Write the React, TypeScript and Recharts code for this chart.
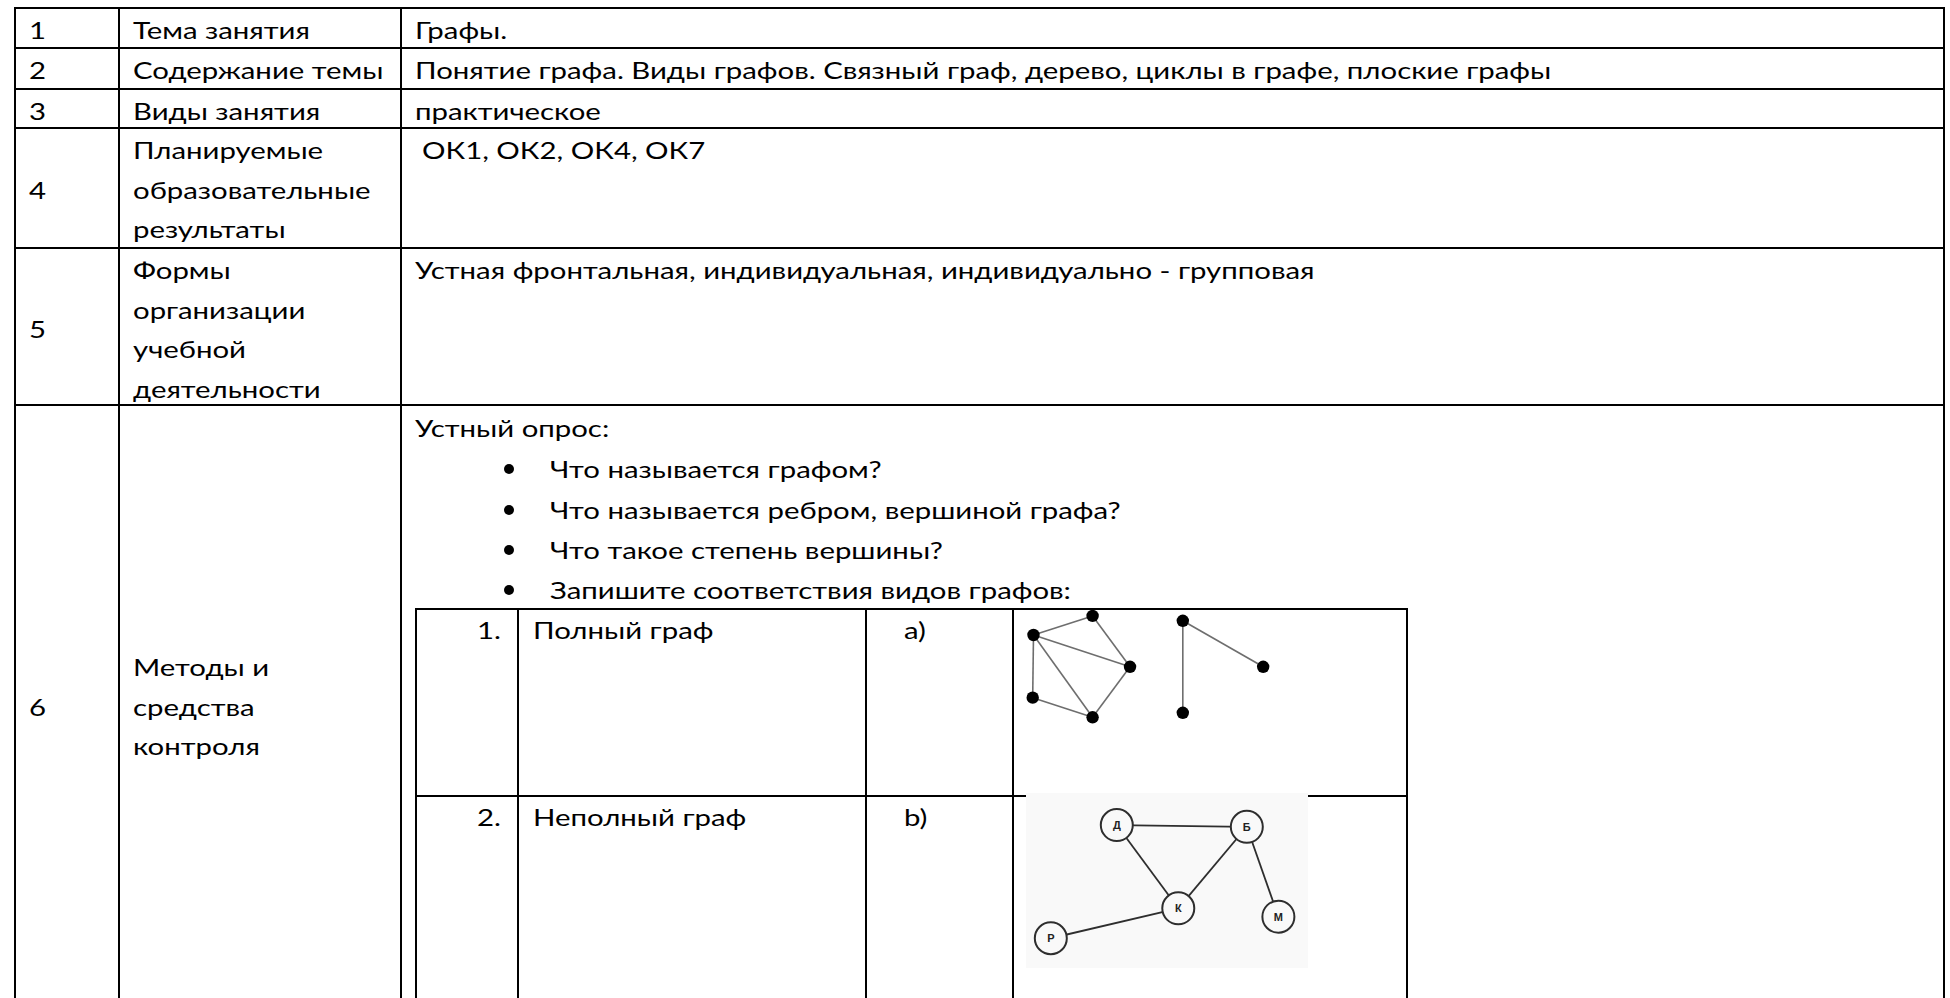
import React, { useMemo } from 'react';
import { ScatterChart, Scatter, XAxis, YAxis } from 'recharts';

// ---------- data ----------
const rowNumbers = ['1', '2', '3', '4', '5', '6'];
const rowTitles: string[][] = [
  ['Тема занятия'],
  ['Содержание темы'],
  ['Виды занятия'],
  ['Планируемые', 'образовательные', 'результаты'],
  ['Формы', 'организации', 'учебной', 'деятельности'],
  ['Методы и', 'средства', 'контроля'],
];
const rowContents: string[] = [
  'Графы.',
  'Понятие графа. Виды графов. Связный граф, дерево, циклы в графе, плоские графы',
  'практическое',
  'ОК1, ОК2, ОК4, ОК7',
  'Устная фронтальная, индивидуальная, индивидуально - групповая',
];
const surveyTitle = 'Устный опрос:';
const surveyQuestions = [
  'Что называется графом?',
  'Что называется ребром, вершиной графа?',
  'Что такое степень вершины?',
  'Запишите соответствия видов графов:',
];
const matchNumbers = ['1.', '2.'];
const matchNames = ['Полный граф', 'Неполный граф'];
const matchLetters = ['a)', 'b)'];

type GNode = { id: string; x: number; y: number };
// graph a) (two drawings in one picture), coordinates on a 0..100 grid
const graphANodes: GNode[] = [
  { id: 'A', x: 5.2, y: 86.1 },
  { id: 'B', x: 20.2, y: 96.3 },
  { id: 'C', x: 29.7, y: 69.1 },
  { id: 'D', x: 20.2, y: 42.1 },
  { id: 'E', x: 5.0, y: 52.6 },
  { id: 'F', x: 43.1, y: 93.7 },
  { id: 'G', x: 63.5, y: 69.1 },
  { id: 'H', x: 43.1, y: 44.5 },
];
const graphAEdges: [string, string][] = [
  ['A', 'B'], ['B', 'C'], ['A', 'C'], ['C', 'D'], ['A', 'D'], ['A', 'E'], ['E', 'D'],
  ['F', 'G'], ['F', 'H'],
];
// graph b)
const graphBNodes: GNode[] = [
  { id: 'Д', x: 32.2, y: 81.7 },
  { id: 'Б', x: 78.3, y: 80.7 },
  { id: 'К', x: 54.0, y: 34.1 },
  { id: 'М', x: 89.5, y: 29.3 },
  { id: 'Р', x: 8.8, y: 17.0 },
];
const graphBEdges: [string, string][] = [
  ['Д', 'Б'], ['Д', 'К'], ['Б', 'К'], ['Б', 'М'], ['К', 'Р'],
];

// ---------- layout ----------
const FONT = 'Lato, "Noto Sans", sans-serif';
const FS = 22.5;
const LH = 39.6;
const ROW2_TARGET_WIDTH = 1137;
const colX = [15, 119, 401, 1944];
const rowY = [8, 48, 89, 128, 248, 405];
const innerCols = [416, 518, 866, 1013, 1407];
const innerRows = [609, 796];
const BOTTOM = 1000;

function GraphChart(props: {
  nodes: GNode[];
  edges: [string, string][];
  width: number;
  height: number;
  edgeStroke: string;
  edgeWidth: number;
  renderNode: (p: any) => React.ReactElement;
  bg?: string;
}) {
  const { nodes, edges, width, height, edgeStroke, edgeWidth, renderNode, bg } = props;
  const byId: Record<string, GNode> = {};
  nodes.forEach((n) => (byId[n.id] = n));
  return (
    <div style={{ width, height, background: bg || 'transparent' }}>
      <ScatterChart width={width} height={height} margin={{ top: 0, right: 0, bottom: 0, left: 0 }}>
        <XAxis type="number" dataKey="x" domain={[0, 100]} hide allowDataOverflow />
        <YAxis type="number" dataKey="y" domain={[0, 100]} hide allowDataOverflow />
        {edges.map(([a, b], i) => (
          <Scatter
            key={'e' + i}
            data={[byId[a], byId[b]]}
            fill={edgeStroke}
            line={{ stroke: edgeStroke, strokeWidth: edgeWidth }}
            shape={() => <g />}
            isAnimationActive={false}
          />
        ))}
        <Scatter data={nodes} shape={renderNode} isAnimationActive={false} />
      </ScatterChart>
    </div>
  );
}

export default function App() {
  const sx = useMemo(() => {
    try {
      const ctx = document.createElement('canvas').getContext('2d') as CanvasRenderingContext2D;
      ctx.font = `${FS}px Lato`;
      const w = ctx.measureText(rowContents[1]).width;
      const s = ROW2_TARGET_WIDTH / w;
      return Math.min(1.7, Math.max(0.7, s));
    } catch (e) {
      return 1;
    }
  }, []);

  const texts: React.ReactElement[] = [];
  let k = 0;
  const T = (x: number, y: number, s: string, anchor: 'start' | 'end' = 'start') => {
    texts.push(
      <text
        key={'t' + k++}
        transform={`translate(${x},${y}) scale(${sx},1)`}
        textAnchor={anchor}
        fontFamily={FONT}
        fontSize={FS}
        fill="#000"
      >
        {s}
      </text>
    );
  };

  // rows 1..5
  for (let i = 0; i < 5; i++) {
    const top = rowY[i];
    const lines = rowTitles[i];
    lines.forEach((ln, j) => T(133, top + 31, ln) || T);
    texts.pop();
    lines.forEach((ln, j) => {
      if (j > 0 || true) {
        /* placed below */
      }
    });
  }
  texts.length = 0;
  k = 0;
  for (let i = 0; i < 5; i++) {
    const top = rowY[i];
    const lines = rowTitles[i];
    lines.forEach((ln, j) => T(133, top + 31 + j * LH, ln));
    const mid = top + 31 + ((lines.length - 1) * LH) / 2;
    T(29, mid, rowNumbers[i]);
    T(i === 3 ? 422 : 415, top + 31, rowContents[i]);
  }
  // row 6
  const r6 = [676, 715.5, 755];
  rowTitles[5].forEach((ln, j) => T(133, r6[j], ln));
  T(29, r6[1], rowNumbers[5]);
  T(415, 437, surveyTitle);
  const qBase = [478, 519, 559, 599];
  surveyQuestions.forEach((q, j) => T(550, qBase[j], q));
  // inner table
  innerRows.forEach((top, j) => {
    T(501, top + 30, matchNumbers[j], 'end');
    T(533, top + 30, matchNames[j]);
    T(904, top + 30, matchLetters[j]);
  });

  const lines: React.ReactElement[] = [];
  colX.forEach((x, i) =>
    lines.push(<line key={'v' + i} x1={x} x2={x} y1={rowY[0] - 1} y2={BOTTOM} stroke="#000" strokeWidth={2} />)
  );
  rowY.forEach((y, i) =>
    lines.push(<line key={'h' + i} x1={colX[0] - 1} x2={colX[3] + 1} y1={y} y2={y} stroke="#000" strokeWidth={2} />)
  );
  innerCols.forEach((x, i) =>
    lines.push(<line key={'iv' + i} x1={x} x2={x} y1={innerRows[0] - 1} y2={BOTTOM} stroke="#000" strokeWidth={2} />)
  );
  innerRows.forEach((y, i) =>
    lines.push(
      <line key={'ih' + i} x1={innerCols[0] - 1} x2={innerCols[4] + 1} y1={y} y2={y} stroke="#000" strokeWidth={2} />
    )
  );

  return (
    <div style={{ position: 'absolute', left: 0, top: 0, width: 1950, height: 998, overflow: 'hidden', background: '#fff' }}>
      <svg width={1950} height={998} style={{ position: 'absolute', left: 0, top: 0 }} shapeRendering="crispEdges">
        {lines}
        <g shapeRendering="auto">
          {texts}
          {qBase.map((b, j) => (
            <circle key={'b' + j} cx={509} cy={b - 9} r={5} fill="#000" />
          ))}
        </g>
      </svg>
      <div style={{ position: 'absolute', left: 1013, top: 609 }}>
        <GraphChart
          nodes={graphANodes}
          edges={graphAEdges}
          width={394}
          height={187}
          edgeStroke="#6e6e6e"
          edgeWidth={1.6}
          renderNode={(p: any) => <circle cx={p.cx} cy={p.cy} r={6.2} fill="#000" />}
        />
      </div>
      <div style={{ position: 'absolute', left: 1026, top: 793 }}>
        <GraphChart
          nodes={graphBNodes}
          edges={graphBEdges}
          width={282}
          height={175}
          bg="#f9f9f9"
          edgeStroke="#2e2e2e"
          edgeWidth={1.8}
          renderNode={(p: any) => (
            <g>
              <circle cx={p.cx} cy={p.cy} r={16} fill="#f9f9f9" stroke="#2e2e2e" strokeWidth={2} />
              <text
                x={p.cx}
                y={p.cy + 4}
                textAnchor="middle"
                fontFamily='"Liberation Sans", Arial, sans-serif'
                fontWeight="bold"
                fontSize={11}
                fill="#222"
              >
                {p.payload.id}
              </text>
            </g>
          )}
        />
      </div>
    </div>
  );
}
